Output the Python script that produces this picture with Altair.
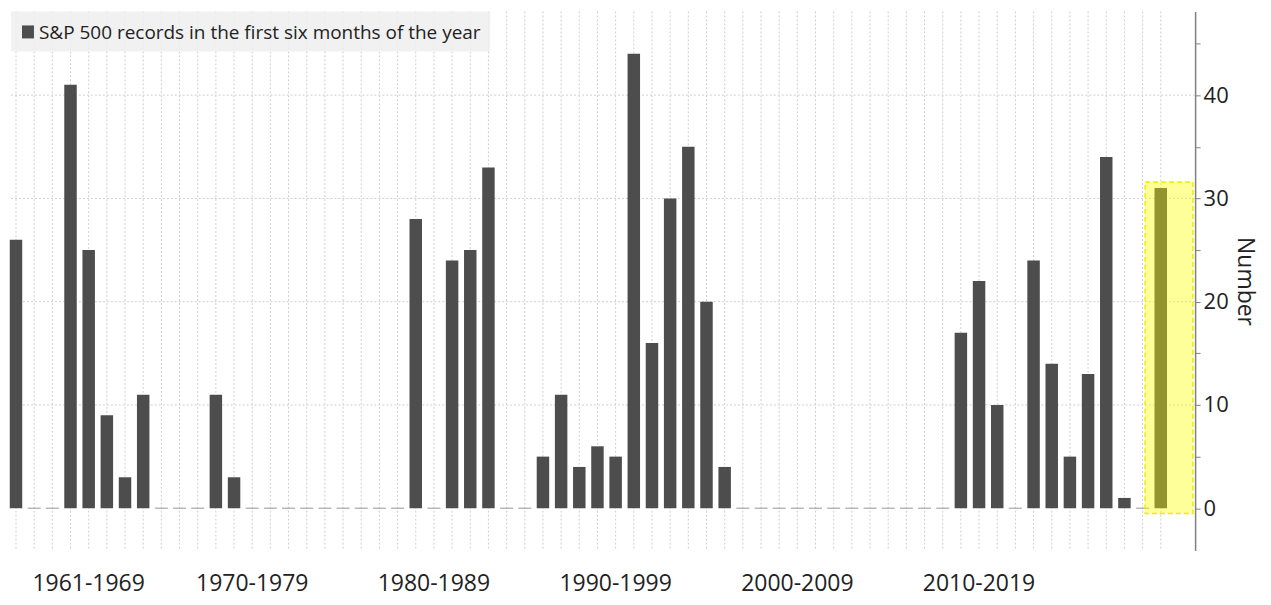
import altair as alt
import pandas as pd

years = list(range(1961, 2025))
records = [26, 0, 0, 41, 25, 9, 3, 11, 0,
           0, 0, 11, 3, 0, 0, 0, 0, 0, 0,
           0, 0, 0, 28, 0, 24, 25, 33, 0, 0,
           5, 11, 4, 6, 5, 44, 16, 30, 35, 20,
           4, 0, 0, 0, 0, 0, 0, 0, 0, 0,
           0, 0, 0, 17, 22, 10, 0, 24, 14, 5,
           13, 34, 1, 0, 31]

decade_labels = ["1961-1969", "1970-1979", "1980-1989", "1990-1999", "2000-2009", "2010-2019"]
decade_pos = [1965, 1974, 1984, 1994, 2004, 2014]

y_grid = [10, 20, 30, 40]
y_ticks = [0, 5, 10, 15, 20, 25, 30, 35, 40, 45]

highlight_x = [2023.14, 2025.77]
highlight_y = [-0.5, 31.6]

legend_text = "S&P 500 records in the first six months of the year"

df = pd.DataFrame({"year": years, "records": records})
zeros = df[df["records"] == 0]
nonzero = df[df["records"] > 0]
dec = pd.DataFrame({"pos": decade_pos, "label": decade_labels})
grid_df = pd.DataFrame({"g": y_grid})
one = pd.DataFrame({"label": [legend_text]})

xscale = alt.Scale(domain=[1960.615, 2025.89], nice=False, zero=False, padding=0)
yscale = alt.Scale(domain=[-4.1, 48.1], nice=False, zero=False, padding=0)

yaxis = alt.Axis(
    orient="right",
    values=y_ticks,
    labelExpr="datum.value % 10 === 0 ? datum.value : ''",
    grid=False,
    domainColor="#808080",
    domainWidth=1.5,
    tickColor="#808080",
    tickSize=5,
    labelPadding=3,
    labelFontSize=22,
    labelColor="#222222",
    title="Number",
    titleFontSize=23,
    titleFontWeight="normal",
    titleColor="#222222",
    titlePadding=4,
)

X = alt.X("year:Q", scale=xscale, axis=None)

vgrid = alt.Chart(df).mark_rule(color="#cfcfcf", strokeDash=[2, 2], strokeWidth=1).encode(x=X)
hgrid = alt.Chart(grid_df).mark_rule(color="#cfcfcf", strokeDash=[2, 2], strokeWidth=1).encode(
    y=alt.Y("g:Q", scale=yscale, axis=yaxis)
)

bars = alt.Chart(nonzero).mark_bar(width=12.5, color="#4d4d4d").encode(
    x=X,
    y=alt.Y("records:Q", scale=yscale, axis=yaxis),
    y2=alt.datum(0),
)

zero_ticks = alt.Chart(zeros).mark_tick(orient="horizontal", size=13, thickness=1.5, color="#9a9a9a").encode(
    x=X, y=alt.Y("records:Q", scale=yscale, axis=yaxis)
)

highlight = alt.Chart(one).mark_rect(
    fill="#ffff00", fillOpacity=0.4, stroke="#eded00", strokeWidth=1.5, strokeDash=[5, 3]
).encode(
    x=alt.datum(highlight_x[0], scale=xscale, axis=None),
    x2=alt.datum(highlight_x[1]),
    y=alt.datum(highlight_y[0], scale=yscale, axis=yaxis),
    y2=alt.datum(highlight_y[1]),
)

decade_text = alt.Chart(dec).mark_text(fontSize=23, color="#222222", baseline="alphabetic", align="center").encode(
    x=alt.X("pos:Q", scale=xscale, axis=None), y=alt.value(580), text="label:N"
)

legend_box = alt.Chart(one).mark_rect(fill="#eeeeee", opacity=0.85).encode(
    x=alt.value(2), x2=alt.value(482), y=alt.value(0), y2=alt.value(40)
)
legend_sq = alt.Chart(one).mark_rect(fill="#4d4d4d").encode(
    x=alt.value(13), x2=alt.value(25), y=alt.value(14), y2=alt.value(27)
)
legend_lbl = alt.Chart(one).mark_text(fontSize=19, color="#222222", align="left", baseline="alphabetic").encode(
    x=alt.value(30), y=alt.value(28), text="label:N"
)

chart = alt.layer(
    vgrid, hgrid, legend_box, bars, zero_ticks, highlight, decade_text, legend_sq, legend_lbl
).properties(
    width=1188, height=540,
    padding={"left": 0, "top": 2, "right": 7, "bottom": 2},
).configure(font="Open Sans").configure_view(stroke=None)

chart.save("out.html", embed_options={"renderer": "svg", "actions": False})
